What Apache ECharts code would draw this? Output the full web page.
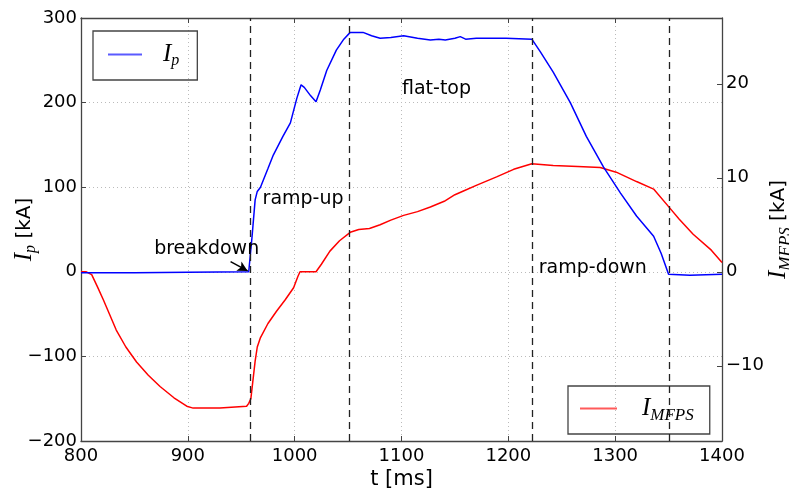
<!DOCTYPE html>
<html><head><meta charset="utf-8">
<script src="https://cdn.jsdelivr.net/npm/echarts@6/dist/echarts.min.js"></script>
<style>html,body{margin:0;padding:0;background:#fff}#c{width:789px;height:493px}</style>
</head><body><div id="c"></div>
<script>
// Plasma current Ip [kA]
const ipT = [800, 850, 900, 957, 958, 960, 963, 965, 968, 975, 980, 989, 996, 1002, 1006, 1009, 1015, 1020, 1024, 1030, 1039, 1046, 1052, 1064, 1072, 1080, 1090, 1102, 1115, 1127, 1135, 1141, 1150, 1155, 1160, 1170, 1185, 1198, 1222, 1230, 1242, 1258, 1273, 1289, 1305, 1320, 1336, 1343, 1350, 1370, 1400];
const ipV = [-1, -1, -0.5, 0, 0, 40, 85, 95, 100, 122, 138, 160, 176, 205, 221, 218, 208, 201, 215, 238, 262, 275, 283, 283, 279, 276, 277, 279, 276, 274, 275, 274, 276, 278, 275, 276, 276, 276, 275, 260, 236, 200, 160, 124, 93, 66, 42, 22, -3, -4, -3];
// MFPS current [kA]
const mfT = [800, 805, 810, 815, 821, 833, 842, 852, 863, 874, 887, 899, 905, 930, 955, 957, 959, 961, 963, 965, 968, 975, 983, 991, 999, 1003, 1005, 1020, 1025, 1033, 1042, 1052, 1060, 1070, 1080, 1090, 1102, 1115, 1127, 1140, 1150, 1158, 1170, 1189, 1205, 1222, 1242, 1265, 1286, 1301, 1320, 1336, 1351, 1360, 1373, 1390, 1400];
const mfV = [0, 0, -0.3, -1.5, -3, -6.2, -8, -9.6, -11, -12.2, -13.4, -14.3, -14.5, -14.5, -14.3, -14.0, -13.5, -11.5, -9.5, -8, -7, -5.5, -4.2, -3, -1.7, -0.5, 0, 0, 0.8, 2.2, 3.3, 4.2, 4.5, 4.6, 5.0, 5.5, 6.0, 6.4, 6.9, 7.5, 8.2, 8.6, 9.2, 10.1, 10.9, 11.5, 11.3, 11.2, 11.1, 10.6, 9.6, 8.8, 6.8, 5.6, 4.0, 2.3, 1.0];
// phase boundaries [ms]
const phaseT = [958, 1051, 1222, 1351];
// phase annotations (text, t [ms], Ip [kA])
const noteText = ['breakdown', 'ramp-up', 'flat-top', 'ramp-down'];
const noteT = [868, 969.5, 1100, 1228];
const noteV = [27, 86, 216, 5];
const arrowFrom = [940, 12];
const arrowTo = [956, 1];
const rightTicks = [-10, 0, 10, 20];

const FONT = 'DejaVu Sans';
const MATH = 'Liberation Serif';
const zip = (a, b) => a.map((x, i) => [x, b[i]]);
const axisCol = '#444';
const fmt = v => String(v).replace('-', '\u2212');

const chart = echarts.init(document.getElementById('c'), null, {renderer: 'canvas'});
const mathRich = (big, small, lead) => {
  const r = {
    i: {fontFamily: MATH, fontStyle: 'italic', fontSize: big, color: '#000'},
    s: {fontFamily: MATH, fontStyle: 'italic', fontSize: small, color: '#000', padding: [Math.round(small * 0.8), 0, 0, 0]},
    n: {fontFamily: FONT, fontSize: 20, color: '#000'}
  };
  if (lead) r.i.padding = [0, 0, 0, lead];
  return r;
};
const legendBase = {borderColor: axisCol, borderWidth: 1.3, borderRadius: 0, icon: 'rect', itemHeight: 2,
  selectedMode: false};

chart.setOption({
  animation: false,
  backgroundColor: '#fff',
  grid: {left: 81, right: 67, top: 18, bottom: 52, containLabel: false, outerBoundsMode: 'none'},
  legend: [
    Object.assign({}, legendBase, {data: ['Ip'], left: 93, top: 31,
     padding: [11, 18, 11, 15], itemWidth: 34, itemStyle: {color: '#5a5aff', borderWidth: 0},
     formatter: () => '{i|I}{s|p}',
     textStyle: {rich: mathRich(25, 16, 16)}}),
    Object.assign({}, legendBase, {data: ['IMFPS'], left: 568, top: 386,
     padding: [10, 16, 10, 12], itemWidth: 37, itemStyle: {color: '#ff5a5a', borderWidth: 0},
     formatter: () => '{i|I}{s|MFPS}',
     textStyle: {rich: mathRich(25, 17, 20)}})
  ],
  xAxis: [
    {type: 'value', min: 800, max: 1400, interval: 100, position: 'bottom',
     name: 't [ms]', nameLocation: 'middle', nameGap: 28, nameMoveOverlap: false,
     nameTextStyle: {fontFamily: FONT, fontSize: 21, color: '#000'},
     axisLine: {onZero: false, lineStyle: {color: axisCol, width: 1.3}},
     axisTick: {inside: true, length: 5, lineStyle: {color: axisCol}},
     axisLabel: {fontFamily: FONT, fontSize: 18, color: '#000', margin: 6, showMinLabel: true, showMaxLabel: true, formatter: fmt},
     splitLine: {show: true, lineStyle: {color: '#bbb', type: [1, 3], width: 1}}},
    {type: 'value', min: 800, max: 1400, interval: 100, position: 'top',
     axisLine: {onZero: false, lineStyle: {color: axisCol, width: 1.3}},
     axisTick: {inside: true, length: 5, lineStyle: {color: axisCol}},
     axisLabel: {show: false}, splitLine: {show: false}}
  ],
  yAxis: [
    {type: 'value', min: -200, max: 300, interval: 100, position: 'left',
     name: '{i|I}{s|p}{n| [kA]}', nameLocation: 'middle', nameGap: 42, nameRotate: 90, nameMoveOverlap: false,
     nameTextStyle: {rich: mathRich(25, 16)},
     axisLine: {show: true, onZero: false, lineStyle: {color: axisCol, width: 1.3}},
     axisTick: {show: true, inside: true, length: 5, lineStyle: {color: axisCol}},
     axisLabel: {fontFamily: FONT, fontSize: 18, color: '#000', margin: 4, showMinLabel: true, showMaxLabel: true, formatter: fmt},
     splitLine: {show: true, lineStyle: {color: '#bbb', type: [1, 3], width: 1}}},
    {type: 'value', min: -18, max: 27, position: 'right',
     name: '{i|I}{s|MFPS}{n| [kA]}', nameLocation: 'middle', nameGap: 41, nameRotate: 90, nameMoveOverlap: false,
     nameTextStyle: {rich: mathRich(25, 17)},
     axisLine: {show: true, onZero: false, lineStyle: {color: axisCol, width: 1.3}},
     axisTick: {show: true, inside: true, length: 5, customValues: rightTicks, lineStyle: {color: axisCol}},
     axisLabel: {fontFamily: FONT, fontSize: 18, color: '#000', margin: 4, customValues: rightTicks, formatter: fmt},
     splitLine: {show: false}}
  ],
  series: [
    {name: 'Ip', type: 'line', xAxisIndex: 0, yAxisIndex: 0, data: zip(ipT, ipV),
     symbol: 'none', showSymbol: false, color: '#0000ff', lineStyle: {color: '#0000ff', width: 1.5}, z: 3,
     markLine: {silent: true, symbol: ['none', 'none'], label: {show: false},
       lineStyle: {type: [7, 5], color: '#222', width: 1.3},
       data: phaseT.map(t => ({xAxis: t})).concat([[
         {coord: arrowFrom, symbol: 'none', lineStyle: {type: 'solid', color: '#000', width: 1.5}},
         {coord: arrowTo, symbol: 'arrow', symbolSize: [8, 10]}
       ]])},
     markPoint: {silent: true, symbol: 'circle', symbolSize: 1, itemStyle: {color: 'rgba(0,0,0,0)'},
       data: noteText.map((txt, i) => ({coord: [noteT[i], noteV[i]],
         label: {show: true, formatter: txt, position: 'right', distance: 0, fontFamily: FONT, fontSize: 19, color: '#000'}}))}},
    {name: 'IMFPS', type: 'line', xAxisIndex: 0, yAxisIndex: 1, data: zip(mfT, mfV),
     symbol: 'none', showSymbol: false, color: '#ff0000', lineStyle: {color: '#ff0000', width: 1.5}, z: 2}
  ]
});
</script></body></html>
